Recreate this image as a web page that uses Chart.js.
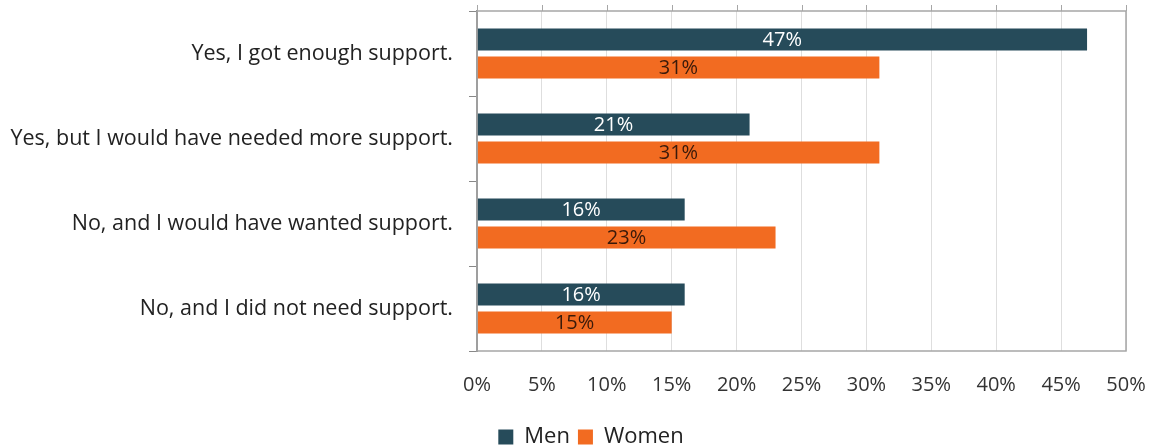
<!DOCTYPE html>
<html>
<head>
<meta charset="utf-8">
<script src="https://cdn.jsdelivr.net/npm/chart.js@4.4.0/dist/chart.umd.min.js"></script>
<style>
  html, body { margin: 0; padding: 0; background: #fff; }
  #wrap { width: 1159px; height: 447px; position: relative; }
</style>
</head>
<body>
<div id="wrap"><canvas id="chart"></canvas></div>
<script>
const categories = [
  'Yes, I got enough support.',
  'Yes, but I would have needed more support.',
  'No, and I would have wanted support.',
  'No, and I did not need support.'
];
const menValues = [47, 21, 16, 16];
const womenValues = [31, 31, 23, 15];
const seriesNames = ['Men', 'Women'];

const FONT = "'Open Sans', sans-serif";

// frame around the plot + small tick marks above the top edge
const framePlugin = {
  id: 'frame',
  afterLayout(chart) {
    // nudge the legend a bit to the right, like the original
    if (chart.legend) {
      chart.legend.left += 28;
      chart.legend.right += 28;
    }
  },
  afterDraw(chart) {
    const { ctx, chartArea: a, scales } = chart;
    ctx.save();
    ctx.strokeStyle = '#a6a6a6';
    ctx.lineWidth = 1.5;
    ctx.strokeRect(a.left, a.top, a.right - a.left, a.bottom - a.top);
    ctx.lineWidth = 1;
    scales.x.ticks.forEach(t => {
      const x = Math.round(scales.x.getPixelForValue(t.value)) + 0.5;
      ctx.beginPath();
      ctx.moveTo(x, a.top - 6);
      ctx.lineTo(x, a.top);
      ctx.stroke();
    });
    ctx.restore();
  }
};

// value labels centred inside each bar
const barLabels = {
  id: 'barLabels',
  afterDatasetsDraw(chart) {
    const { ctx } = chart;
    ctx.save();
    ctx.font = "20px " + FONT;
    ctx.textAlign = 'center';
    ctx.textBaseline = 'middle';
    chart.data.datasets.forEach((ds, i) => {
      const meta = chart.getDatasetMeta(i);
      ctx.fillStyle = i === 0 ? '#ffffff' : '#3a1a0a';
      meta.data.forEach((bar, j) => {
        const cx = (bar.x + bar.base) / 2;
        ctx.fillText(ds.data[j] + '%', cx, bar.y + 1);
      });
    });
    ctx.restore();
  }
};

new Chart(document.getElementById('chart'), {
  type: 'bar',
  data: {
    labels: categories,
    datasets: [
      { label: seriesNames[0], data: menValues, backgroundColor: '#264b5a' },
      { label: seriesNames[1], data: womenValues, backgroundColor: '#f26b21' }
    ]
  },
  options: {
    indexAxis: 'y',
    responsive: true,
    maintainAspectRatio: false,
    animation: false,
    layout: { padding: { top: 11, right: 33, bottom: -11, left: 0 } },
    datasets: {
      bar: { categoryPercentage: 0.66, barPercentage: 0.79 }
    },
    scales: {
      x: {
        min: 0,
        max: 50,
        afterFit(scale) {
          scale.paddingLeft = 0;
          scale.paddingRight = 0;
          scale.height -= 1;
        },
        ticks: {
          stepSize: 5,
          callback: v => v + '%',
          color: '#333',
          font: { family: FONT, size: 20 },
          padding: 22
        },
        grid: { color: '#dedede', drawTicks: false },
        border: { display: false }
      },
      y: {
        afterFit(scale) {
          scale.width = 477;
          scale.paddingTop = 0;
          scale.paddingBottom = 0;
        },
        ticks: {
          color: '#222',
          font: { family: FONT, size: 21.5 },
          padding: 16
        },
        grid: { offset: true, drawOnChartArea: false, drawTicks: true, tickLength: 8, color: '#888' },
        border: { color: '#888', width: 2 }
      }
    },
    plugins: {
      legend: {
        position: 'bottom',
        labels: {
          color: '#222',
          font: { family: FONT, size: 22 },
          boxWidth: 15,
          boxHeight: 15,
          padding: 8
        }
      },
      tooltip: { enabled: false }
    }
  },
  plugins: [framePlugin, barLabels]
});
</script>
</body>
</html>
